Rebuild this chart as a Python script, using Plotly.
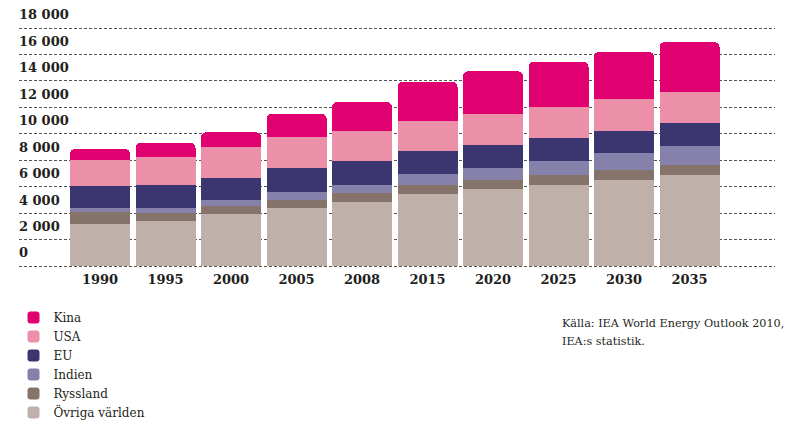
import plotly.graph_objects as go

years = ["1990", "1995", "2000", "2005", "2008", "2015", "2020", "2025", "2030", "2035"]
ovriga = [3180, 3430, 3930, 4390, 4840, 5450, 5820, 6130, 6500, 6880]
ryssland = [910, 580, 610, 600, 680, 680, 680, 760, 760, 760]
indien = [300, 380, 450, 610, 610, 830, 910, 1060, 1290, 1440]
eu = [1660, 1740, 1660, 1820, 1820, 1740, 1740, 1740, 1660, 1740]
usa = [1970, 2120, 2350, 2370, 2290, 2290, 2370, 2320, 2400, 2320]
kina = [830, 1080, 1110, 1740, 2150, 2930, 3200, 3430, 3580, 3780]

series = [
    ("Övriga världen", ovriga, "#BFB1AA"),
    ("Ryssland", ryssland, "#86746A"),
    ("Indien", indien, "#8681AB"),
    ("EU", eu, "#3C3670"),
    ("USA", usa, "#EB90A8"),
    ("Kina", kina, "#E0006F"),
]

y_ticks = [0, 2000, 4000, 6000, 8000, 10000, 12000, 14000, 16000, 18000]
y_ticktext = ["0", "2 000", "4 000", "6 000", "8 000", "10 000", "12 000", "14 000", "16 000", "18 000"]

source_lines = ["Källa: IEA World Energy Outlook 2010,", "IEA:s statistik."]

FONT = "DejaVu Serif"

# page body adds an 8px offset; work in figure pixels
W, H = 792, 422
L, R, T, B = 11, 767, 0, 260
ZERO_PX, TOP_PX = 258, 20          # pixel rows of 0 and 18000
K = 18000 / (ZERO_PX - TOP_PX)     # units per pixel
y_range = [-(B - ZERO_PX) * K, (ZERO_PX - T) * K]


def py(pix):
    return (B - pix) / (B - T)


def px(pix):
    return (pix - L) / (R - L)


fig = go.Figure()
for name, vals, col in series:
    fig.add_trace(go.Bar(
        x=years, y=vals, name=name,
        marker=dict(color=col, line=dict(width=0)),
    ))

fig.update_layout(
    width=W, height=H,
    margin=dict(l=L, r=W - R, t=T, b=H - B, autoexpand=False),
    barmode="stack",
    bargap=0.084,
    barcornerradius=5,
    plot_bgcolor="white",
    paper_bgcolor="white",
    font=dict(family=FONT, color="#231F20"),
    showlegend=True,
    legend=dict(
        traceorder="reversed",
        x=px(5.5), y=py(295), xanchor="left", yanchor="top",
        font=dict(family=FONT, size=12, color="#231F20"),
        bgcolor="rgba(0,0,0,0)",
    ),
    xaxis=dict(
        type="category",
        range=[-1.237, 10.305],
        showgrid=False, showline=False, ticks="",
        ticklabelstandoff=2,
        tickfont=dict(family=FONT, size=13, color="#231F20", weight="bold"),
    ),
    yaxis=dict(
        range=y_range,
        tickvals=y_ticks, ticktext=y_ticktext,
        showgrid=True, gridcolor="#555555", gridwidth=1, griddash="3px,2px",
        zeroline=False, showline=False, ticks="",
        ticklabelposition="inside top",
        ticklabeloverflow="allow",
        ticklabelshift=-4,
        ticklabelstandoff=-3,
        tickfont=dict(family=FONT, size=13, color="#231F20", weight="bold"),
    ),
)

for i, line in enumerate(source_lines):
    fig.add_annotation(
        text=line, xref="paper", yref="paper",
        x=px(552), y=py(315 + i * 19),
        xanchor="left", yanchor="middle", showarrow=False,
        font=dict(family=FONT, size=11.2, color="#231F20"),
    )

fig.write_html("out.html")
